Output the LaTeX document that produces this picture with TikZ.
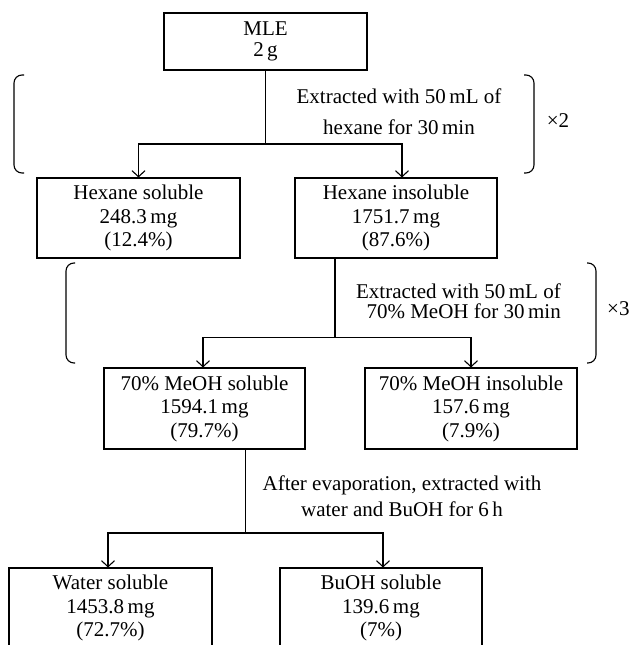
\documentclass[tikz,border=0pt]{standalone}
\usepackage{fontspec}
\setmainfont{Liberation Serif}
\usetikzlibrary{arrows.meta}

\begin{document}
\begin{tikzpicture}[x=1pt, y=-1pt,
    frac-box/.style={ draw=black, line width=1.1pt, align=center, inner sep=0pt,
        minimum height=80pt, font=\fontsize{21}{23.5}\selectfont },
    step-text/.style={ align=center, inner sep=0pt, font=\fontsize{21}{23}\selectfont },
    flow/.style={ line width=1.1pt },
    arr/.style={ flow, -{Straight Barb[length=6pt,width=13pt,line width=1.1pt]} },
    bracket/.style={ line width=1.1pt, rounded corners=8pt } ]
    \useasboundingbox (0,0) rectangle (631,645);
    \clip (0,0) rectangle (631,645);

    \node[frac-box, minimum width=203pt, minimum height=57pt,
        font=\fontsize{21}{21}\selectfont] (mle) at (265.5,41.5) {MLE\\2\,g};
    \node[frac-box, minimum width=203pt] (hexsol) at (138.5,218) {Hexane soluble\\248.3\,mg\\(12.4\%)};
    \node[frac-box, minimum width=202pt] (hexinsol) at (396,218) {Hexane insoluble\\1751.7\,mg\\(87.6\%)};
    \node[frac-box, minimum width=201pt, minimum height=81pt] (meohsol) at (204.5,408.5) {70\% MeOH soluble\\1594.1\,mg\\(79.7\%)};
    \node[frac-box, minimum width=212pt, minimum height=81pt] (meohinsol) at (471,408.5) {70\% MeOH insoluble\\157.6\,mg\\(7.9\%)};
    \node[frac-box, minimum width=203pt] (watersol) at (110.5,608) {Water soluble\\1453.8\,mg\\(72.7\%)};
    \node[frac-box, minimum width=202pt] (buohsol) at (381,608) {BuOH soluble\\139.6\,mg\\(7\%)};

    \node[step-text] (ext1) at (399,112) {Extracted with 50\,mL of\\[8pt]hexane for 30\,min};
    \node[step-text, align=right, anchor=east] (ext2) at (561,301) {Extracted with 50\,mL of\\[-3pt]70\% MeOH for 30\,min};
    \node[step-text] (ext3) at (402,496) {After evaporation, extracted with\\[3pt]water and BuOH for 6\,h};
    \node[step-text] (rep1) at (558,121) {×2};
    \node[step-text, anchor=west] (rep2) at (607,309) {×3};

    \coordinate (j1) at (265.5,144);
    \coordinate (j2) at (335,337.5);
    \coordinate (j3) at (245.5,533);

    % Edges
    \draw[flow] (mle.south) -- (j1);
    \draw[arr] (j1) -| (hexsol.north);
    \draw[arr] (j1) -| ([xshift=6pt]hexinsol.north);
    \draw[flow] (j2 |- hexinsol.south) -- (j2);
    \draw[arr] (j2) -| ([xshift=-1.5pt]meohsol.north);
    \draw[arr] (j2) -| (meohinsol.north);
    \draw[flow] (j3 |- meohsol.south) -- (j3);
    \draw[arr] (j3) -| ([xshift=-2.5pt]watersol.north);
    \draw[arr] (j3) -| ([xshift=2pt]buohsol.north);

    % Brackets
    \draw[bracket] (24,75) -- (14,75) -- (14,173) -- (24,173);
    \draw[bracket] (524,75) -- (534,75) -- (534,173) -- (524,173);
    \draw[bracket] (75,263) -- (66,263) -- (66,363) -- (75,363);
    \draw[bracket] (587,263) -- (596,263) -- (596,363) -- (587,363);
\end{tikzpicture}
\end{document}
